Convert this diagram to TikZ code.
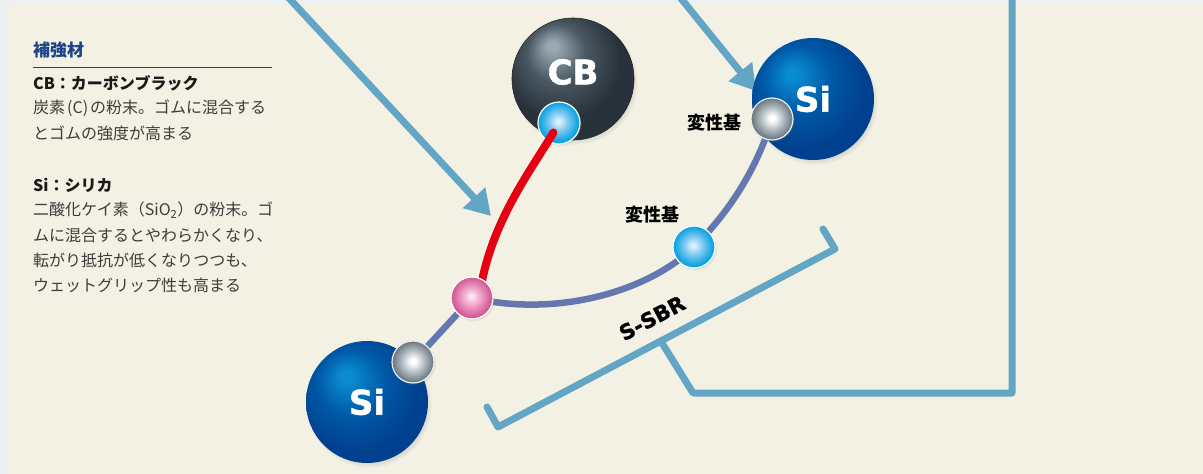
\documentclass[tikz,border=0pt]{standalone}
\usepackage{fontspec}
\usetikzlibrary{arrows.meta,shadows}

\setmainfont{Noto Sans CJK JP}
\newfontfamily\heavyfont[FakeBold=1.4]{DejaVu Sans Bold}

\definecolor{pagebg}{HTML}{ECF0F3}
\definecolor{cardbg}{HTML}{F3F1E3}
\definecolor{pointerblue}{HTML}{63A5C5}
\definecolor{chaincol}{HTML}{6577AF}
\definecolor{bondred}{HTML}{E60012}
\definecolor{headblue}{HTML}{1D4389}
\definecolor{bodygray}{HTML}{3C3C3C}

% sphere colours
\definecolor{cbhi}{HTML}{9AA8B1}
\definecolor{cbmid}{HTML}{4A5863}
\definecolor{cbdark}{HTML}{28323A}
\definecolor{sihi}{HTML}{0A8CD2}
\definecolor{simid}{HTML}{0058A6}
\definecolor{sidark}{HTML}{00408E}
\definecolor{cyhi}{HTML}{DDF1FC}
\definecolor{cymid}{HTML}{7FC9F0}
\definecolor{cyedge}{HTML}{00A0E0}
\definecolor{grhi}{HTML}{FFFFFF}
\definecolor{grmid}{HTML}{B4BEC4}
\definecolor{gredge}{HTML}{56636B}
\definecolor{pkhi}{HTML}{FBE3EF}
\definecolor{pkmid}{HTML}{EEA2C9}
\definecolor{pkedge}{HTML}{CF4F8E}

% a path fills the middle 50bp of a shading, so 25bp is the rim
\pgfdeclareradialshading{cbball}{\pgfpoint{-9bp}{14bp}}{%
  color(0bp)=(cbhi); color(2bp)=(cbhi); color(12bp)=(cbmid);
  color(24bp)=(cbdark); color(50bp)=(cbdark)}
\pgfdeclareradialshading{siball}{\pgfpoint{-9bp}{11bp}}{%
  color(0bp)=(sihi); color(2bp)=(sihi); color(14bp)=(simid);
  color(26bp)=(sidark); color(50bp)=(sidark)}
\pgfdeclareradialshading{cyball}{\pgfpoint{-1bp}{2bp}}{%
  color(0bp)=(cyhi); color(2bp)=(cyhi); color(11bp)=(cymid);
  color(22bp)=(cyedge!85!cymid); color(32bp)=(cyedge); color(50bp)=(cyedge)}
\pgfdeclareradialshading{grball}{\pgfpoint{0bp}{1bp}}{%
  color(0bp)=(grhi); color(3bp)=(grhi); color(13bp)=(grmid);
  color(24bp)=(gredge!75!grmid); color(34bp)=(gredge); color(50bp)=(gredge)}
\pgfdeclareradialshading{pkball}{\pgfpoint{-1bp}{2bp}}{%
  color(0bp)=(pkhi); color(2bp)=(pkhi); color(11bp)=(pkmid);
  color(22bp)=(pkedge!80!pkmid); color(32bp)=(pkedge); color(50bp)=(pkedge)}

\tikzset{
  pointer/.style={draw=pointerblue, line width=7pt,
    -{Triangle[length=25pt,width=29pt]}},
  bracketline/.style={draw=pointerblue, line width=7pt, line cap=round, line join=round},
  filler/.style={circle, minimum size=122pt, inner sep=0pt, text=white,
    font=\heavyfont\fontsize{34}{34}\selectfont,
    circular drop shadow={shadow xshift=2pt, shadow yshift=-3pt, opacity=.35, shadow scale=1.03}},
  modgroup/.style={circle, minimum size=42pt, inner sep=0pt, draw=white, line width=1.2pt,
    circular drop shadow={shadow xshift=1pt, shadow yshift=-1.5pt, opacity=.25, shadow scale=1.05}},
  rubberchain/.style={draw=chaincol, line width=6.5pt},
  bondline/.style={draw=bondred, line width=8pt, line cap=round},
  modlabel/.style={font=\bfseries\fontsize{18}{18}\selectfont, inner sep=0pt},
  head/.style={anchor=west, inner sep=0pt, text=black!90, font=\bfseries\fontsize{16}{16}\selectfont},
  body/.style={anchor=west, inner sep=0pt, text=bodygray, font=\fontsize{16}{16}\selectfont},
}

\begin{document}
\begin{tikzpicture}[x=1pt,y=-1pt]

    \useasboundingbox (0,0) rectangle (1203,474);
    \clip (0,0) rectangle (1203,474);
    \fill[pagebg] (0,0) rectangle (1203,474);
    \fill[cardbg, rounded corners=6pt] (7,3) rectangle (1230,500);

    % notes on the left
    \node[anchor=west, inner sep=0pt, text=headblue, font=\bfseries\fontsize{17}{17}\selectfont] (title) at (33,50) {補強材};
    \draw[headblue, line width=1pt] (33,67) -- (272,67);
    \node[head] (cbhead) at (33,83) {CB：カーボンブラック};
    \node[body] (cbtext1) at (33,108) {炭素\kern2pt(C)\kern2pt の粉末。ゴムに混合する};
    \node[body] (cbtext2) at (33,133) {とゴムの強度が高まる};
    \node[head] (sihead) at (33,185) {Si：シリカ};
    \node[body] (sitext1) at (33,210) {二酸化ケイ素（SiO\textsubscript{2}）の粉末。ゴ};
    \node[body] (sitext2) at (33,235) {ムに混合するとやわらかくなり、};
    \node[body] (sitext3) at (33,260) {転がり抵抗が低くなりつつも、};
    \node[body] (sitext4) at (33,285) {ウェットグリップ性も高まる};

    % pointers and bracket
    \coordinate (bondtip) at (491,216);
    \coordinate (sitip) at (756,91);
    \draw[pointer] (287,-4) -- (bondtip);
    \draw[pointer] (679,-4) -- (sitip);
    \coordinate (brmid) at (662,343);
    \draw[bracketline] (487,407) -- (498,427) -- (835,249) -- (823,229);
    \draw[bracketline] (brmid) -- (693,393) -| (1012,-10);

    % fillers
    \node[filler, shading=cbball, draw=black!85, line width=.6pt] (cb) at (573,79) {};
    \node[text=white, font=\heavyfont\fontsize{34}{34}\selectfont, inner sep=0pt] (cbname) at (573,72) {CB};
    \node[filler, shading=siball] (sil) at (367,402) {Si};
    \node[filler, shading=siball] (sir) at (813,99) {Si};

    \node[modgroup, shading=cyball] (cbmod) at (559,123) {};

    % polymer chain and bond
    \draw[bondline, shorten <=11pt] (cbmod.center) .. controls (530,172) and (491,222) .. (480,292);
    \draw[rubberchain] (413,362) -- (472,298) .. controls (560,318) and (650,290) .. (694,247)
        .. controls (733,208) and (758,165) .. (772,119);

    \node[modgroup, shading=grball, draw=white!85!gray] (silmod) at (413,362) {};
    \node[modgroup, shading=pkball] (joint) at (472,298) {};
    \node[modgroup, shading=cyball] (chainmod) at (694,247) {};
    \node[modgroup, shading=grball, draw=white!85!gray] (sirmod) at (772,119) {};

    \node[modlabel] (modtext1) at (714,123) {変性基};
    \node[modlabel] (modtext2) at (652,215) {変性基};
    \node[rotate=28, inner sep=0pt, font=\heavyfont\fontsize{21}{21}\selectfont] (sbr) at (652,318) {S-SBR};

\end{tikzpicture}
\end{document}
